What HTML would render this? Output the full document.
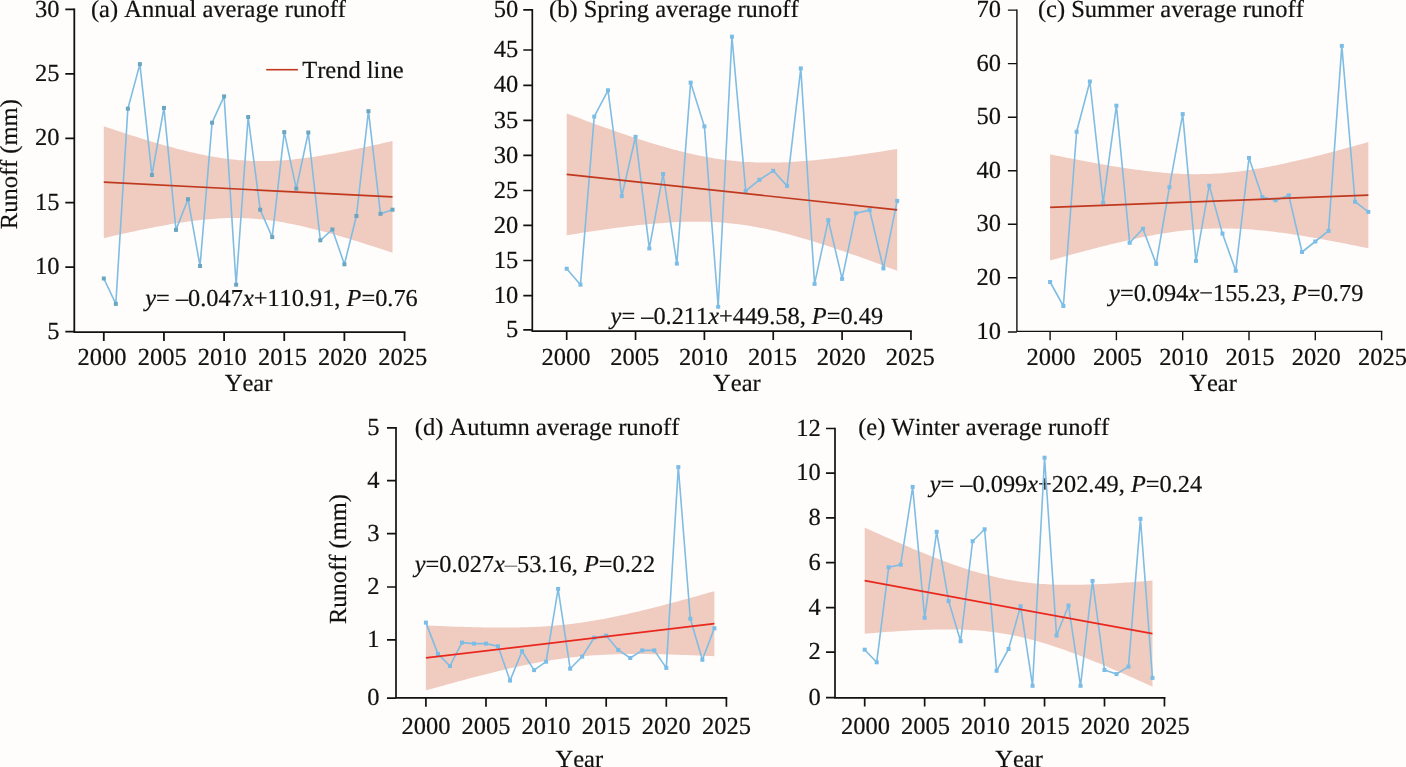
<!DOCTYPE html>
<html><head><meta charset="utf-8"><title>Runoff trends</title>
<style>
html,body{margin:0;padding:0;background:#fefdfc;}
body{width:1406px;height:767px;overflow:hidden;}
svg{display:block;filter:blur(0.3px);}
text{font-family:"Liberation Serif", "Times New Roman", serif;font-size:24.5px;fill:#111;font-kerning:none;text-rendering:geometricPrecision;stroke:#111;stroke-width:0.2px;}
</style></head><body>
<svg width="1406" height="767" viewBox="0 0 1406 767">
<rect width="1406" height="767" fill="#fefdfc"/>
<path d="M103.8,126.29 L106.81,127.29 L109.81,128.3 L112.82,129.29 L115.83,130.28 L118.84,131.27 L121.84,132.25 L124.85,133.22 L127.86,134.19 L130.87,135.15 L133.88,136.1 L136.88,137.04 L139.89,137.98 L142.9,138.91 L145.91,139.83 L148.91,140.74 L151.92,141.64 L154.93,142.53 L157.94,143.4 L160.94,144.27 L163.95,145.13 L166.96,145.97 L169.96,146.8 L172.97,147.61 L175.98,148.41 L178.99,149.19 L182,149.96 L185,150.71 L188.01,151.44 L191.02,152.15 L194.02,152.85 L197.03,153.52 L200.04,154.16 L203.05,154.79 L206.06,155.39 L209.06,155.97 L212.07,156.52 L215.08,157.04 L218.08,157.53 L221.09,158 L224.1,158.44 L227.11,158.84 L230.12,159.21 L233.12,159.55 L236.13,159.86 L239.14,160.13 L242.14,160.37 L245.15,160.58 L248.16,160.75 L251.17,160.88 L254.18,160.98 L257.18,161.05 L260.19,161.08 L263.2,161.08 L266.2,161.05 L269.21,160.98 L272.22,160.88 L275.23,160.75 L278.24,160.59 L281.24,160.4 L284.25,160.19 L287.26,159.94 L290.26,159.67 L293.27,159.38 L296.28,159.06 L299.29,158.71 L302.29,158.35 L305.3,157.96 L308.31,157.56 L311.32,157.13 L314.32,156.69 L317.33,156.22 L320.34,155.75 L323.35,155.25 L326.35,154.74 L329.36,154.22 L332.37,153.69 L335.38,153.14 L338.38,152.58 L341.39,152 L344.4,151.42 L347.41,150.83 L350.41,150.22 L353.42,149.61 L356.43,148.99 L359.44,148.36 L362.44,147.72 L365.45,147.07 L368.46,146.42 L371.47,145.76 L374.48,145.09 L377.48,144.42 L380.49,143.74 L383.5,143.05 L386.5,142.36 L389.51,141.66 L392.52,140.96 L392.52,252.82 L389.51,251.81 L386.5,250.81 L383.5,249.81 L380.49,248.82 L377.48,247.84 L374.48,246.86 L371.47,245.88 L368.46,244.92 L365.45,243.96 L362.44,243.01 L359.44,242.06 L356.43,241.12 L353.42,240.2 L350.41,239.28 L347.41,238.37 L344.4,237.47 L341.39,236.58 L338.38,235.7 L335.38,234.83 L332.37,233.98 L329.36,233.14 L326.35,232.31 L323.35,231.49 L320.34,230.69 L317.33,229.91 L314.32,229.14 L311.32,228.39 L308.31,227.66 L305.3,226.95 L302.29,226.26 L299.29,225.59 L296.28,224.94 L293.27,224.31 L290.26,223.71 L287.26,223.14 L284.25,222.59 L281.24,222.06 L278.24,221.57 L275.23,221.1 L272.22,220.67 L269.21,220.26 L266.2,219.89 L263.2,219.55 L260.19,219.25 L257.18,218.97 L254.18,218.73 L251.17,218.53 L248.16,218.36 L245.15,218.22 L242.14,218.12 L239.14,218.06 L236.13,218.02 L233.12,218.02 L230.12,218.06 L227.11,218.12 L224.1,218.22 L221.09,218.35 L218.08,218.51 L215.08,218.7 L212.07,218.92 L209.06,219.16 L206.06,219.43 L203.05,219.73 L200.04,220.05 L197.03,220.39 L194.02,220.76 L191.02,221.14 L188.01,221.55 L185,221.97 L182,222.42 L178.99,222.88 L175.98,223.36 L172.97,223.85 L169.96,224.36 L166.96,224.88 L163.95,225.42 L160.94,225.97 L157.94,226.53 L154.93,227.1 L151.92,227.68 L148.91,228.28 L145.91,228.88 L142.9,229.5 L139.89,230.12 L136.88,230.75 L133.88,231.39 L130.87,232.03 L127.86,232.69 L124.85,233.35 L121.84,234.02 L118.84,234.69 L115.83,235.37 L112.82,236.05 L109.81,236.74 L106.81,237.44 L103.8,238.14Z" fill="#f0cbc0"/>
<path d="M566.7,113.44 L570.14,114.74 L573.59,116.04 L577.03,117.32 L580.47,118.61 L583.91,119.88 L587.36,121.15 L590.8,122.42 L594.24,123.67 L597.68,124.92 L601.12,126.16 L604.57,127.39 L608.01,128.62 L611.45,129.83 L614.9,131.04 L618.34,132.23 L621.78,133.41 L625.22,134.59 L628.67,135.75 L632.11,136.89 L635.55,138.03 L638.99,139.15 L642.44,140.26 L645.88,141.35 L649.32,142.42 L652.76,143.48 L656.21,144.52 L659.65,145.54 L663.09,146.54 L666.53,147.52 L669.98,148.47 L673.42,149.41 L676.86,150.32 L680.3,151.2 L683.75,152.06 L687.19,152.89 L690.63,153.69 L694.07,154.47 L697.52,155.21 L700.96,155.92 L704.4,156.6 L707.84,157.24 L711.29,157.85 L714.73,158.42 L718.17,158.96 L721.61,159.46 L725.06,159.92 L728.5,160.35 L731.94,160.74 L735.38,161.09 L738.83,161.4 L742.27,161.68 L745.71,161.92 L749.15,162.12 L752.6,162.29 L756.04,162.42 L759.48,162.51 L762.92,162.58 L766.37,162.61 L769.81,162.6 L773.25,162.57 L776.69,162.51 L780.13,162.42 L783.58,162.3 L787.02,162.15 L790.46,161.98 L793.9,161.79 L797.35,161.57 L800.79,161.33 L804.23,161.07 L807.68,160.79 L811.12,160.49 L814.56,160.17 L818,159.84 L821.45,159.49 L824.89,159.12 L828.33,158.74 L831.77,158.35 L835.22,157.94 L838.66,157.52 L842.1,157.09 L845.54,156.64 L848.99,156.19 L852.43,155.72 L855.87,155.25 L859.31,154.77 L862.76,154.27 L866.2,153.77 L869.64,153.26 L873.08,152.75 L876.53,152.22 L879.97,151.69 L883.41,151.16 L886.85,150.61 L890.3,150.07 L893.74,149.51 L897.18,148.95 L897.18,270.8 L893.74,269.5 L890.3,268.2 L886.85,266.92 L883.41,265.63 L879.97,264.36 L876.53,263.09 L873.08,261.82 L869.64,260.57 L866.2,259.32 L862.76,258.08 L859.31,256.85 L855.87,255.62 L852.43,254.41 L848.99,253.2 L845.54,252.01 L842.1,250.83 L838.66,249.65 L835.22,248.49 L831.77,247.35 L828.33,246.21 L824.89,245.09 L821.45,243.98 L818,242.89 L814.56,241.82 L811.12,240.76 L807.68,239.72 L804.23,238.7 L800.79,237.7 L797.35,236.72 L793.9,235.77 L790.46,234.83 L787.02,233.92 L783.58,233.04 L780.13,232.18 L776.69,231.35 L773.25,230.55 L769.81,229.77 L766.37,229.03 L762.92,228.32 L759.48,227.64 L756.04,227 L752.6,226.39 L749.15,225.82 L745.71,225.28 L742.27,224.78 L738.83,224.32 L735.38,223.89 L731.94,223.5 L728.5,223.15 L725.06,222.84 L721.61,222.56 L718.17,222.32 L714.73,222.12 L711.29,221.95 L707.84,221.82 L704.4,221.73 L700.96,221.66 L697.52,221.63 L694.07,221.64 L690.63,221.67 L687.19,221.73 L683.75,221.82 L680.3,221.94 L676.86,222.09 L673.42,222.26 L669.98,222.45 L666.53,222.67 L663.09,222.91 L659.65,223.17 L656.21,223.45 L652.76,223.75 L649.32,224.07 L645.88,224.4 L642.44,224.75 L638.99,225.12 L635.55,225.5 L632.11,225.89 L628.67,226.3 L625.22,226.72 L621.78,227.15 L618.34,227.6 L614.9,228.05 L611.45,228.52 L608.01,228.99 L604.57,229.47 L601.12,229.97 L597.68,230.47 L594.24,230.98 L590.8,231.49 L587.36,232.02 L583.91,232.55 L580.47,233.08 L577.03,233.63 L573.59,234.17 L570.14,234.73 L566.7,235.29Z" fill="#f0cbc0"/>
<path d="M1050.1,154.28 L1053.41,154.97 L1056.73,155.65 L1060.04,156.32 L1063.36,156.99 L1066.67,157.65 L1069.99,158.31 L1073.3,158.96 L1076.62,159.6 L1079.93,160.24 L1083.25,160.87 L1086.56,161.5 L1089.88,162.11 L1093.19,162.72 L1096.51,163.32 L1099.82,163.91 L1103.14,164.49 L1106.45,165.07 L1109.77,165.63 L1113.08,166.18 L1116.4,166.72 L1119.71,167.24 L1123.03,167.76 L1126.34,168.26 L1129.66,168.74 L1132.97,169.22 L1136.29,169.67 L1139.61,170.11 L1142.92,170.53 L1146.23,170.94 L1149.55,171.32 L1152.87,171.68 L1156.18,172.03 L1159.49,172.35 L1162.81,172.65 L1166.12,172.92 L1169.44,173.17 L1172.75,173.39 L1176.07,173.59 L1179.38,173.76 L1182.7,173.9 L1186.01,174.01 L1189.33,174.09 L1192.64,174.14 L1195.96,174.16 L1199.27,174.15 L1202.59,174.1 L1205.9,174.02 L1209.22,173.91 L1212.53,173.77 L1215.85,173.59 L1219.16,173.38 L1222.48,173.14 L1225.79,172.86 L1229.11,172.56 L1232.42,172.22 L1235.74,171.86 L1239.05,171.46 L1242.37,171.03 L1245.68,170.58 L1249,170.1 L1252.31,169.6 L1255.63,169.07 L1258.94,168.51 L1262.26,167.94 L1265.57,167.34 L1268.89,166.72 L1272.2,166.08 L1275.52,165.42 L1278.83,164.74 L1282.15,164.05 L1285.46,163.34 L1288.78,162.61 L1292.09,161.87 L1295.41,161.11 L1298.72,160.34 L1302.04,159.56 L1305.36,158.77 L1308.67,157.96 L1311.98,157.14 L1315.3,156.32 L1318.61,155.48 L1321.93,154.63 L1325.24,153.78 L1328.56,152.91 L1331.88,152.04 L1335.19,151.16 L1338.5,150.27 L1341.82,149.38 L1345.13,148.48 L1348.45,147.57 L1351.76,146.66 L1355.08,145.74 L1358.39,144.82 L1361.71,143.89 L1365.02,142.96 L1368.34,142.02 L1368.34,248.26 L1365.02,247.58 L1361.71,246.9 L1358.39,246.22 L1355.08,245.56 L1351.76,244.89 L1348.45,244.24 L1345.13,243.59 L1341.82,242.94 L1338.5,242.3 L1335.19,241.67 L1331.88,241.05 L1328.56,240.43 L1325.24,239.82 L1321.93,239.22 L1318.61,238.63 L1315.3,238.05 L1311.98,237.48 L1308.67,236.92 L1305.36,236.37 L1302.04,235.83 L1298.72,235.3 L1295.41,234.79 L1292.09,234.29 L1288.78,233.8 L1285.46,233.33 L1282.15,232.87 L1278.83,232.43 L1275.52,232.01 L1272.2,231.61 L1268.89,231.22 L1265.57,230.86 L1262.26,230.52 L1258.94,230.2 L1255.63,229.9 L1252.31,229.62 L1249,229.37 L1245.68,229.15 L1242.37,228.95 L1239.05,228.78 L1235.74,228.64 L1232.42,228.53 L1229.11,228.45 L1225.79,228.4 L1222.48,228.38 L1219.16,228.4 L1215.85,228.44 L1212.53,228.52 L1209.22,228.63 L1205.9,228.78 L1202.59,228.95 L1199.27,229.16 L1195.96,229.41 L1192.64,229.68 L1189.33,229.99 L1186.01,230.32 L1182.7,230.69 L1179.38,231.08 L1176.07,231.51 L1172.75,231.96 L1169.44,232.44 L1166.12,232.95 L1162.81,233.48 L1159.49,234.03 L1156.18,234.61 L1152.87,235.2 L1149.55,235.82 L1146.23,236.46 L1142.92,237.12 L1139.61,237.8 L1136.29,238.5 L1132.97,239.21 L1129.66,239.93 L1126.34,240.68 L1123.03,241.43 L1119.71,242.2 L1116.4,242.98 L1113.08,243.78 L1109.77,244.58 L1106.45,245.4 L1103.14,246.23 L1099.82,247.07 L1096.51,247.91 L1093.19,248.77 L1089.88,249.63 L1086.56,250.5 L1083.25,251.38 L1079.93,252.27 L1076.62,253.16 L1073.3,254.06 L1069.99,254.97 L1066.67,255.88 L1063.36,256.8 L1060.04,257.73 L1056.73,258.65 L1053.41,259.59 L1050.1,260.53Z" fill="#f0cbc0"/>
<path d="M425.9,625.38 L428.9,625.52 L431.91,625.65 L434.91,625.79 L437.92,625.92 L440.92,626.05 L443.93,626.17 L446.94,626.29 L449.94,626.41 L452.94,626.52 L455.95,626.63 L458.95,626.74 L461.96,626.83 L464.96,626.93 L467.97,627.02 L470.97,627.1 L473.98,627.18 L476.98,627.25 L479.99,627.32 L483,627.38 L486,627.43 L489,627.47 L492.01,627.51 L495.01,627.54 L498.02,627.56 L501.02,627.57 L504.03,627.57 L507.03,627.56 L510.04,627.54 L513.04,627.51 L516.05,627.47 L519.05,627.41 L522.06,627.35 L525.06,627.26 L528.07,627.17 L531.07,627.06 L534.08,626.93 L537.09,626.79 L540.09,626.63 L543.1,626.46 L546.1,626.27 L549.11,626.06 L552.11,625.83 L555.12,625.58 L558.12,625.31 L561.12,625.03 L564.13,624.72 L567.13,624.39 L570.14,624.05 L573.14,623.68 L576.15,623.3 L579.15,622.89 L582.16,622.46 L585.16,622.02 L588.17,621.55 L591.17,621.07 L594.18,620.56 L597.18,620.04 L600.19,619.5 L603.19,618.95 L606.2,618.38 L609.2,617.79 L612.21,617.19 L615.21,616.57 L618.22,615.94 L621.22,615.29 L624.23,614.64 L627.23,613.97 L630.24,613.28 L633.25,612.59 L636.25,611.89 L639.25,611.17 L642.26,610.45 L645.26,609.72 L648.27,608.98 L651.27,608.23 L654.28,607.47 L657.28,606.7 L660.29,605.93 L663.29,605.15 L666.3,604.37 L669.3,603.58 L672.31,602.78 L675.31,601.98 L678.32,601.17 L681.32,600.36 L684.33,599.54 L687.34,598.72 L690.34,597.89 L693.35,597.06 L696.35,596.23 L699.36,595.39 L702.36,594.55 L705.37,593.71 L708.37,592.86 L711.38,592.01 L714.38,591.16 L714.38,656.25 L711.38,656.11 L708.37,655.97 L705.37,655.84 L702.36,655.7 L699.36,655.58 L696.35,655.45 L693.35,655.33 L690.34,655.21 L687.34,655.1 L684.33,654.99 L681.32,654.89 L678.32,654.79 L675.31,654.69 L672.31,654.61 L669.3,654.52 L666.3,654.44 L663.29,654.37 L660.29,654.31 L657.28,654.25 L654.28,654.19 L651.27,654.15 L648.27,654.11 L645.26,654.08 L642.26,654.06 L639.25,654.05 L636.25,654.05 L633.25,654.06 L630.24,654.08 L627.23,654.11 L624.23,654.16 L621.22,654.21 L618.22,654.28 L615.21,654.36 L612.21,654.46 L609.2,654.57 L606.2,654.69 L603.19,654.83 L600.19,654.99 L597.18,655.16 L594.18,655.36 L591.17,655.57 L588.17,655.8 L585.16,656.04 L582.16,656.31 L579.15,656.6 L576.15,656.9 L573.14,657.23 L570.14,657.58 L567.13,657.94 L564.13,658.33 L561.12,658.74 L558.12,659.16 L555.12,659.61 L552.11,660.07 L549.11,660.56 L546.1,661.06 L543.1,661.58 L540.09,662.12 L537.09,662.67 L534.08,663.25 L531.07,663.83 L528.07,664.44 L525.06,665.05 L522.06,665.69 L519.05,666.33 L516.05,666.99 L513.04,667.66 L510.04,668.34 L507.03,669.03 L504.03,669.74 L501.02,670.45 L498.02,671.17 L495.01,671.91 L492.01,672.65 L489,673.4 L486,674.16 L483,674.92 L479.99,675.69 L476.98,676.47 L473.98,677.26 L470.97,678.05 L467.97,678.84 L464.96,679.65 L461.96,680.45 L458.95,681.27 L455.95,682.08 L452.94,682.91 L449.94,683.73 L446.94,684.56 L443.93,685.4 L440.92,686.23 L437.92,687.07 L434.91,687.92 L431.91,688.76 L428.9,689.61 L425.9,690.47Z" fill="#f0cbc0"/>
<path d="M864.7,527.56 L867.7,528.92 L870.7,530.28 L873.69,531.63 L876.69,532.98 L879.69,534.32 L882.69,535.65 L885.68,536.98 L888.68,538.31 L891.68,539.62 L894.68,540.93 L897.67,542.24 L900.67,543.53 L903.67,544.82 L906.67,546.1 L909.66,547.37 L912.66,548.63 L915.66,549.88 L918.66,551.12 L921.65,552.35 L924.65,553.56 L927.65,554.77 L930.65,555.96 L933.64,557.14 L936.64,558.31 L939.64,559.46 L942.63,560.59 L945.63,561.71 L948.63,562.81 L951.63,563.89 L954.62,564.95 L957.62,566 L960.62,567.02 L963.62,568.02 L966.62,569 L969.61,569.95 L972.61,570.88 L975.61,571.78 L978.61,572.65 L981.6,573.5 L984.6,574.32 L987.6,575.11 L990.6,575.87 L993.59,576.6 L996.59,577.3 L999.59,577.96 L1002.59,578.59 L1005.58,579.19 L1008.58,579.76 L1011.58,580.3 L1014.58,580.8 L1017.57,581.27 L1020.57,581.7 L1023.57,582.11 L1026.57,582.48 L1029.56,582.82 L1032.56,583.14 L1035.56,583.42 L1038.56,583.67 L1041.55,583.9 L1044.55,584.1 L1047.55,584.27 L1050.55,584.42 L1053.54,584.55 L1056.54,584.65 L1059.54,584.73 L1062.54,584.79 L1065.53,584.83 L1068.53,584.85 L1071.53,584.85 L1074.53,584.83 L1077.52,584.8 L1080.52,584.75 L1083.52,584.69 L1086.52,584.61 L1089.51,584.52 L1092.51,584.42 L1095.51,584.3 L1098.51,584.18 L1101.5,584.04 L1104.5,583.89 L1107.5,583.73 L1110.5,583.56 L1113.49,583.39 L1116.49,583.2 L1119.49,583.01 L1122.49,582.81 L1125.48,582.6 L1128.48,582.39 L1131.48,582.16 L1134.47,581.94 L1137.47,581.7 L1140.47,581.46 L1143.47,581.22 L1146.47,580.97 L1149.46,580.71 L1152.46,580.45 L1152.46,686.68 L1149.46,685.32 L1146.47,683.96 L1143.47,682.61 L1140.47,681.26 L1137.47,679.92 L1134.47,678.59 L1131.48,677.26 L1128.48,675.93 L1125.48,674.62 L1122.49,673.31 L1119.49,672 L1116.49,670.71 L1113.49,669.42 L1110.5,668.14 L1107.5,666.87 L1104.5,665.61 L1101.5,664.36 L1098.51,663.12 L1095.51,661.89 L1092.51,660.68 L1089.51,659.47 L1086.52,658.28 L1083.52,657.1 L1080.52,655.93 L1077.52,654.78 L1074.53,653.65 L1071.53,652.53 L1068.53,651.43 L1065.53,650.35 L1062.54,649.29 L1059.54,648.24 L1056.54,647.22 L1053.54,646.22 L1050.55,645.24 L1047.55,644.29 L1044.55,643.36 L1041.55,642.46 L1038.56,641.59 L1035.56,640.74 L1032.56,639.92 L1029.56,639.13 L1026.57,638.37 L1023.57,637.64 L1020.57,636.94 L1017.57,636.28 L1014.58,635.65 L1011.58,635.05 L1008.58,634.48 L1005.58,633.94 L1002.59,633.44 L999.59,632.97 L996.59,632.54 L993.59,632.13 L990.6,631.76 L987.6,631.42 L984.6,631.1 L981.6,630.82 L978.61,630.57 L975.61,630.34 L972.61,630.14 L969.61,629.97 L966.62,629.82 L963.62,629.69 L960.62,629.59 L957.62,629.51 L954.62,629.45 L951.63,629.41 L948.63,629.39 L945.63,629.39 L942.63,629.41 L939.64,629.44 L936.64,629.49 L933.64,629.55 L930.65,629.63 L927.65,629.72 L924.65,629.82 L921.65,629.94 L918.66,630.06 L915.66,630.2 L912.66,630.35 L909.66,630.51 L906.67,630.68 L903.67,630.85 L900.67,631.04 L897.67,631.23 L894.68,631.43 L891.68,631.64 L888.68,631.85 L885.68,632.08 L882.69,632.3 L879.69,632.54 L876.69,632.78 L873.69,633.02 L870.7,633.27 L867.7,633.53 L864.7,633.79Z" fill="#f0cbc0"/>
<text x="90.9" y="16.9" text-anchor="start" >(a) Annual average runoff</text>
<text x="549" y="16.9" text-anchor="start" >(b) Spring average runoff</text>
<text x="1037.9" y="16.8" text-anchor="start" >(c) Summer average runoff</text>
<text x="414.8" y="434.8" text-anchor="start" >(d) Autumn average runoff</text>
<text x="858.2" y="434.8" text-anchor="start" >(e) Winter average runoff</text>
<line x1="266.2" y1="69.7" x2="297.9" y2="69.7" stroke="#c0391f" stroke-width="1.6"/>
<text x="302.2" y="77.8" text-anchor="start" >Trend line</text>
<text x="145.3" y="306.2" text-anchor="start" style="font-size:24.35px"><tspan font-style="italic">y</tspan>= –0.047<tspan font-style="italic">x</tspan>+110.91, <tspan font-style="italic">P</tspan>=0.76</text>
<text x="610.6" y="324" text-anchor="start" style="font-size:24.35px"><tspan font-style="italic">y</tspan>= –0.211<tspan font-style="italic">x</tspan>+449.58, <tspan font-style="italic">P</tspan>=0.49</text>
<text x="1109.1" y="301.2" text-anchor="start" style="font-size:24.35px"><tspan font-style="italic">y</tspan>=0.094<tspan font-style="italic">x</tspan>−155.23, <tspan font-style="italic">P</tspan>=0.79</text>
<text x="414.7" y="571.6" text-anchor="start" style="font-size:24.35px"><tspan font-style="italic">y</tspan>=0.027<tspan font-style="italic">x</tspan><tspan fill="#8c8c8c" style="fill:#8c8c8c;stroke:#8c8c8c">–</tspan>53.16, <tspan font-style="italic">P</tspan>=0.22</text>
<text x="929.7" y="491.6" text-anchor="start" style="font-size:24.35px"><tspan font-style="italic">y</tspan>= –0.099<tspan font-style="italic">x</tspan>+202.49, <tspan font-style="italic">P</tspan>=0.24</text>
<text x="17.3" y="164.2" text-anchor="middle" transform="rotate(-90 17.3 164.2)">Runoff (mm)</text>
<text x="345.9" y="559" text-anchor="middle" transform="rotate(-90 345.9 559.0)">Runoff (mm)</text>
<text x="248.5" y="390.9" text-anchor="middle" >Year</text>
<text x="736.9" y="390.9" text-anchor="middle" >Year</text>
<text x="1213" y="391.1" text-anchor="middle" >Year</text>
<text x="579.3" y="766.8" text-anchor="middle" >Year</text>
<text x="1019" y="766.8" text-anchor="middle" >Year</text>
<path d="M74.3,9.4 L74.3,332.2 L404.5,332.2" fill="none" stroke="#111" stroke-width="1.8" stroke-linejoin="miter" stroke-linecap="square"/>
<text x="59.4" y="16.5" text-anchor="end" >30</text>
<text x="59.4" y="80.9" text-anchor="end" >25</text>
<text x="59.4" y="145.4" text-anchor="end" >20</text>
<text x="59.4" y="209.8" text-anchor="end" >15</text>
<text x="59.4" y="274.3" text-anchor="end" >10</text>
<text x="59.4" y="338.7" text-anchor="end" >5</text>
<text x="102" y="364.6" text-anchor="middle" >2000</text>
<text x="162.15" y="364.6" text-anchor="middle" >2005</text>
<text x="222.3" y="364.6" text-anchor="middle" >2010</text>
<text x="282.45" y="364.6" text-anchor="middle" >2015</text>
<text x="342.6" y="364.6" text-anchor="middle" >2020</text>
<text x="402.75" y="364.6" text-anchor="middle" >2025</text>
<path d="M65.3,9.4 H74.3 M65.3,73.8 H74.3 M65.3,138.3 H74.3 M65.3,202.7 H74.3 M65.3,267.2 H74.3 M65.3,331.6 H74.3 M103.8,332.2 V341 M163.95,332.2 V341 M224.1,332.2 V341 M284.25,332.2 V341 M344.4,332.2 V341 M404.55,332.2 V341" stroke="#111" stroke-width="1.8" fill="none"/>
<polyline points="103.8,278.5 115.83,303.9 127.86,108.7 139.89,64.1 151.92,175 163.95,107.9 175.98,229.9 188.01,199.2 200.04,266 212.07,122.7 224.1,96.4 236.13,284.7 248.16,117 260.19,209.7 272.22,237.1 284.25,132.1 296.28,188.6 308.31,132.5 320.34,240.3 332.37,229.5 344.4,264.3 356.43,216 368.46,111.2 380.49,213.8 392.52,209.7" fill="none" stroke="#7fbde3" stroke-width="1.6" stroke-linejoin="round"/>
<rect x="101.8" y="276.5" width="4" height="4" fill="#6aa6c0"/>
<rect x="113.83" y="301.9" width="4" height="4" fill="#6aa6c0"/>
<rect x="125.86" y="106.7" width="4" height="4" fill="#6aa6c0"/>
<rect x="137.89" y="62.1" width="4" height="4" fill="#6aa6c0"/>
<rect x="149.92" y="173" width="4" height="4" fill="#6aa6c0"/>
<rect x="161.95" y="105.9" width="4" height="4" fill="#6aa6c0"/>
<rect x="173.98" y="227.9" width="4" height="4" fill="#6aa6c0"/>
<rect x="186.01" y="197.2" width="4" height="4" fill="#6aa6c0"/>
<rect x="198.04" y="264" width="4" height="4" fill="#6aa6c0"/>
<rect x="210.07" y="120.7" width="4" height="4" fill="#6aa6c0"/>
<rect x="222.1" y="94.4" width="4" height="4" fill="#6aa6c0"/>
<rect x="234.13" y="282.7" width="4" height="4" fill="#6aa6c0"/>
<rect x="246.16" y="115" width="4" height="4" fill="#6aa6c0"/>
<rect x="258.19" y="207.7" width="4" height="4" fill="#6aa6c0"/>
<rect x="270.22" y="235.1" width="4" height="4" fill="#6aa6c0"/>
<rect x="282.25" y="130.1" width="4" height="4" fill="#6aa6c0"/>
<rect x="294.28" y="186.6" width="4" height="4" fill="#6aa6c0"/>
<rect x="306.31" y="130.5" width="4" height="4" fill="#6aa6c0"/>
<rect x="318.34" y="238.3" width="4" height="4" fill="#6aa6c0"/>
<rect x="330.37" y="227.5" width="4" height="4" fill="#6aa6c0"/>
<rect x="342.4" y="262.3" width="4" height="4" fill="#6aa6c0"/>
<rect x="354.43" y="214" width="4" height="4" fill="#6aa6c0"/>
<rect x="366.46" y="109.2" width="4" height="4" fill="#6aa6c0"/>
<rect x="378.49" y="211.8" width="4" height="4" fill="#6aa6c0"/>
<rect x="390.52" y="207.7" width="4" height="4" fill="#6aa6c0"/>
<line x1="103.8" y1="182.21" x2="392.52" y2="196.89" stroke="#c0391f" stroke-width="1.7"/>
<path d="M532.3,9.9 L532.3,331.1 L911,331.1" fill="none" stroke="#111" stroke-width="1.7" stroke-linejoin="miter" stroke-linecap="square"/>
<text x="518.2" y="17" text-anchor="end" >50</text>
<text x="518.2" y="57.1" text-anchor="end" >45</text>
<text x="518.2" y="92.4" text-anchor="end" >40</text>
<text x="518.2" y="127.5" text-anchor="end" >35</text>
<text x="518.2" y="162.5" text-anchor="end" >30</text>
<text x="518.2" y="197.6" text-anchor="end" >25</text>
<text x="518.2" y="232.5" text-anchor="end" >20</text>
<text x="518.2" y="267.6" text-anchor="end" >15</text>
<text x="518.2" y="302.7" text-anchor="end" >10</text>
<text x="518.2" y="337" text-anchor="end" >5</text>
<text x="565.9" y="364.7" text-anchor="middle" >2000</text>
<text x="634.75" y="364.7" text-anchor="middle" >2005</text>
<text x="703.6" y="364.7" text-anchor="middle" >2010</text>
<text x="772.45" y="364.7" text-anchor="middle" >2015</text>
<text x="841.3" y="364.7" text-anchor="middle" >2020</text>
<text x="910.15" y="364.7" text-anchor="middle" >2025</text>
<path d="M523.3,9.9 H532.3 M523.3,50 H532.3 M523.3,85.3 H532.3 M523.3,120.4 H532.3 M523.3,155.4 H532.3 M523.3,190.5 H532.3 M523.3,225.4 H532.3 M523.3,260.5 H532.3 M523.3,295.6 H532.3 M523.3,329.9 H532.3 M566.7,331.1 V339.9 M635.55,331.1 V339.9 M704.4,331.1 V339.9 M773.25,331.1 V339.9 M842.1,331.1 V339.9 M910.95,331.1 V339.9" stroke="#111" stroke-width="1.7" fill="none"/>
<polyline points="566.7,268.7 580.47,284.7 594.24,116.6 608.01,90.3 621.78,196.1 635.55,136.8 649.32,248.4 663.09,174 676.86,263.6 690.63,82.6 704.4,126.4 718.17,306.8 731.94,36.7 745.71,190.9 759.48,179.8 773.25,170.8 787.02,185.9 800.79,68.4 814.56,283.9 828.33,220.1 842.1,278.9 855.87,213.2 869.64,210.1 883.41,268.4 897.18,200.9" fill="none" stroke="#7fbde3" stroke-width="1.6" stroke-linejoin="round"/>
<rect x="564.7" y="266.7" width="4" height="4" fill="#7bbde6"/>
<rect x="578.47" y="282.7" width="4" height="4" fill="#7bbde6"/>
<rect x="592.24" y="114.6" width="4" height="4" fill="#7bbde6"/>
<rect x="606.01" y="88.3" width="4" height="4" fill="#7bbde6"/>
<rect x="619.78" y="194.1" width="4" height="4" fill="#7bbde6"/>
<rect x="633.55" y="134.8" width="4" height="4" fill="#7bbde6"/>
<rect x="647.32" y="246.4" width="4" height="4" fill="#7bbde6"/>
<rect x="661.09" y="172" width="4" height="4" fill="#7bbde6"/>
<rect x="674.86" y="261.6" width="4" height="4" fill="#7bbde6"/>
<rect x="688.63" y="80.6" width="4" height="4" fill="#7bbde6"/>
<rect x="702.4" y="124.4" width="4" height="4" fill="#7bbde6"/>
<rect x="716.17" y="304.8" width="4" height="4" fill="#7bbde6"/>
<rect x="729.94" y="34.7" width="4" height="4" fill="#7bbde6"/>
<rect x="743.71" y="188.9" width="4" height="4" fill="#7bbde6"/>
<rect x="757.48" y="177.8" width="4" height="4" fill="#7bbde6"/>
<rect x="771.25" y="168.8" width="4" height="4" fill="#7bbde6"/>
<rect x="785.02" y="183.9" width="4" height="4" fill="#7bbde6"/>
<rect x="798.79" y="66.4" width="4" height="4" fill="#7bbde6"/>
<rect x="812.56" y="281.9" width="4" height="4" fill="#7bbde6"/>
<rect x="826.33" y="218.1" width="4" height="4" fill="#7bbde6"/>
<rect x="840.1" y="276.9" width="4" height="4" fill="#7bbde6"/>
<rect x="853.87" y="211.2" width="4" height="4" fill="#7bbde6"/>
<rect x="867.64" y="208.1" width="4" height="4" fill="#7bbde6"/>
<rect x="881.41" y="266.4" width="4" height="4" fill="#7bbde6"/>
<rect x="895.18" y="198.9" width="4" height="4" fill="#7bbde6"/>
<line x1="566.7" y1="174.37" x2="897.18" y2="209.87" stroke="#c0391f" stroke-width="1.7"/>
<path d="M1016.9,10.1 L1016.9,331.4 L1381.7,331.4" fill="none" stroke="#111" stroke-width="1.4" stroke-linejoin="miter" stroke-linecap="square"/>
<text x="1001.1" y="17.2" text-anchor="end" >70</text>
<text x="1001.1" y="70.7" text-anchor="end" >60</text>
<text x="1001.1" y="124.3" text-anchor="end" >50</text>
<text x="1001.1" y="177.8" text-anchor="end" >40</text>
<text x="1001.1" y="231.3" text-anchor="end" >30</text>
<text x="1001.1" y="284.9" text-anchor="end" >20</text>
<text x="1001.1" y="339.1" text-anchor="end" >10</text>
<text x="1051.1" y="364.6" text-anchor="middle" >2000</text>
<text x="1117.4" y="364.6" text-anchor="middle" >2005</text>
<text x="1183.7" y="364.6" text-anchor="middle" >2010</text>
<text x="1250" y="364.6" text-anchor="middle" >2015</text>
<text x="1316.3" y="364.6" text-anchor="middle" >2020</text>
<text x="1382.6" y="364.6" text-anchor="middle" >2025</text>
<path d="M1007.9,10.1 H1016.9 M1007.9,63.6 H1016.9 M1007.9,117.2 H1016.9 M1007.9,170.7 H1016.9 M1007.9,224.2 H1016.9 M1007.9,277.8 H1016.9 M1007.9,332 H1016.9 M1050.1,331.4 V340.2 M1116.4,331.4 V340.2 M1182.7,331.4 V340.2 M1249,331.4 V340.2 M1315.3,331.4 V340.2 M1381.6,331.4 V340.2" stroke="#111" stroke-width="1.4" fill="none"/>
<polyline points="1050.1,282 1063.36,306 1076.62,131.8 1089.88,81.5 1103.14,202.7 1116.4,105.7 1129.66,242.8 1142.92,228.8 1156.18,263.9 1169.44,187.1 1182.7,114.1 1195.96,260.9 1209.22,185.6 1222.48,233.6 1235.74,270.8 1249,157.9 1262.26,197.1 1275.52,200.2 1288.78,195.4 1302.04,252 1315.3,241.5 1328.56,230.9 1341.82,45.9 1355.08,201.7 1368.34,211.9" fill="none" stroke="#7fbde3" stroke-width="1.6" stroke-linejoin="round"/>
<rect x="1048.1" y="280" width="4" height="4" fill="#7bbde6"/>
<rect x="1061.36" y="304" width="4" height="4" fill="#7bbde6"/>
<rect x="1074.62" y="129.8" width="4" height="4" fill="#7bbde6"/>
<rect x="1087.88" y="79.5" width="4" height="4" fill="#7bbde6"/>
<rect x="1101.14" y="200.7" width="4" height="4" fill="#7bbde6"/>
<rect x="1114.4" y="103.7" width="4" height="4" fill="#7bbde6"/>
<rect x="1127.66" y="240.8" width="4" height="4" fill="#7bbde6"/>
<rect x="1140.92" y="226.8" width="4" height="4" fill="#7bbde6"/>
<rect x="1154.18" y="261.9" width="4" height="4" fill="#7bbde6"/>
<rect x="1167.44" y="185.1" width="4" height="4" fill="#7bbde6"/>
<rect x="1180.7" y="112.1" width="4" height="4" fill="#7bbde6"/>
<rect x="1193.96" y="258.9" width="4" height="4" fill="#7bbde6"/>
<rect x="1207.22" y="183.6" width="4" height="4" fill="#7bbde6"/>
<rect x="1220.48" y="231.6" width="4" height="4" fill="#7bbde6"/>
<rect x="1233.74" y="268.8" width="4" height="4" fill="#7bbde6"/>
<rect x="1247" y="155.9" width="4" height="4" fill="#7bbde6"/>
<rect x="1260.26" y="195.1" width="4" height="4" fill="#7bbde6"/>
<rect x="1273.52" y="198.2" width="4" height="4" fill="#7bbde6"/>
<rect x="1286.78" y="193.4" width="4" height="4" fill="#7bbde6"/>
<rect x="1300.04" y="250" width="4" height="4" fill="#7bbde6"/>
<rect x="1313.3" y="239.5" width="4" height="4" fill="#7bbde6"/>
<rect x="1326.56" y="228.9" width="4" height="4" fill="#7bbde6"/>
<rect x="1339.82" y="43.9" width="4" height="4" fill="#7bbde6"/>
<rect x="1353.08" y="199.7" width="4" height="4" fill="#7bbde6"/>
<rect x="1366.34" y="209.9" width="4" height="4" fill="#7bbde6"/>
<line x1="1050.1" y1="207.41" x2="1368.34" y2="195.14" stroke="#c0391f" stroke-width="1.7"/>
<path d="M396,427.9 L396,697.9 L726.4,697.9" fill="none" stroke="#111" stroke-width="1.7" stroke-linejoin="miter" stroke-linecap="square"/>
<text x="379.4" y="435" text-anchor="end" >5</text>
<text x="379.4" y="487.7" text-anchor="end" >4</text>
<text x="379.4" y="540.7" text-anchor="end" >3</text>
<text x="379.4" y="594.1" text-anchor="end" >2</text>
<text x="379.4" y="646.9" text-anchor="end" >1</text>
<text x="379.4" y="705.2" text-anchor="end" >0</text>
<text x="425.9" y="733.9" text-anchor="middle" >2000</text>
<text x="486" y="733.9" text-anchor="middle" >2005</text>
<text x="546.1" y="733.9" text-anchor="middle" >2010</text>
<text x="606.2" y="733.9" text-anchor="middle" >2015</text>
<text x="666.3" y="733.9" text-anchor="middle" >2020</text>
<text x="726.4" y="733.9" text-anchor="middle" >2025</text>
<path d="M387,427.9 H396 M387,480.6 H396 M387,533.6 H396 M387,587 H396 M387,639.8 H396 M387,698.1 H396 M425.9,697.9 V706.7 M486,697.9 V706.7 M546.1,697.9 V706.7 M606.2,697.9 V706.7 M666.3,697.9 V706.7 M726.4,697.9 V706.7" stroke="#111" stroke-width="1.7" fill="none"/>
<polyline points="425.9,622.6 437.92,653.9 449.94,666 461.96,642.6 473.98,643.6 486,643.6 498.02,646.3 510.04,680.6 522.06,651.2 534.08,670.1 546.1,661.7 558.12,588.9 570.14,668.7 582.16,656.6 594.18,637.7 606.2,635.6 618.22,649.9 630.24,658 642.26,650.4 654.28,650.4 666.3,667.9 678.32,467.1 690.34,618.8 702.36,659.8 714.38,628.3" fill="none" stroke="#7fbde3" stroke-width="1.6" stroke-linejoin="round"/>
<rect x="423.9" y="620.6" width="4" height="4" fill="#7bbde6"/>
<rect x="435.92" y="651.9" width="4" height="4" fill="#7bbde6"/>
<rect x="447.94" y="664" width="4" height="4" fill="#7bbde6"/>
<rect x="459.96" y="640.6" width="4" height="4" fill="#7bbde6"/>
<rect x="471.98" y="641.6" width="4" height="4" fill="#7bbde6"/>
<rect x="484" y="641.6" width="4" height="4" fill="#7bbde6"/>
<rect x="496.02" y="644.3" width="4" height="4" fill="#7bbde6"/>
<rect x="508.04" y="678.6" width="4" height="4" fill="#7bbde6"/>
<rect x="520.06" y="649.2" width="4" height="4" fill="#7bbde6"/>
<rect x="532.08" y="668.1" width="4" height="4" fill="#7bbde6"/>
<rect x="544.1" y="659.7" width="4" height="4" fill="#7bbde6"/>
<rect x="556.12" y="586.9" width="4" height="4" fill="#7bbde6"/>
<rect x="568.14" y="666.7" width="4" height="4" fill="#7bbde6"/>
<rect x="580.16" y="654.6" width="4" height="4" fill="#7bbde6"/>
<rect x="592.18" y="635.7" width="4" height="4" fill="#7bbde6"/>
<rect x="604.2" y="633.6" width="4" height="4" fill="#7bbde6"/>
<rect x="616.22" y="647.9" width="4" height="4" fill="#7bbde6"/>
<rect x="628.24" y="656" width="4" height="4" fill="#7bbde6"/>
<rect x="640.26" y="648.4" width="4" height="4" fill="#7bbde6"/>
<rect x="652.28" y="648.4" width="4" height="4" fill="#7bbde6"/>
<rect x="664.3" y="665.9" width="4" height="4" fill="#7bbde6"/>
<rect x="676.32" y="465.1" width="4" height="4" fill="#7bbde6"/>
<rect x="688.34" y="616.8" width="4" height="4" fill="#7bbde6"/>
<rect x="700.36" y="657.8" width="4" height="4" fill="#7bbde6"/>
<rect x="712.38" y="626.3" width="4" height="4" fill="#7bbde6"/>
<line x1="425.9" y1="657.92" x2="714.38" y2="623.7" stroke="#e8281e" stroke-width="1.7"/>
<path d="M835,428.5 L835,697.8 L1164.6,697.8" fill="none" stroke="#111" stroke-width="1.7" stroke-linejoin="miter" stroke-linecap="square"/>
<text x="820.7" y="435.6" text-anchor="end" >12</text>
<text x="820.7" y="480.3" text-anchor="end" >10</text>
<text x="820.7" y="524.9" text-anchor="end" >8</text>
<text x="820.7" y="569.7" text-anchor="end" >6</text>
<text x="820.7" y="614.7" text-anchor="end" >4</text>
<text x="820.7" y="659.3" text-anchor="end" >2</text>
<text x="820.7" y="704.7" text-anchor="end" >0</text>
<text x="865.5" y="733.5" text-anchor="middle" >2000</text>
<text x="925.45" y="733.5" text-anchor="middle" >2005</text>
<text x="985.4" y="733.5" text-anchor="middle" >2010</text>
<text x="1045.35" y="733.5" text-anchor="middle" >2015</text>
<text x="1105.3" y="733.5" text-anchor="middle" >2020</text>
<text x="1165.25" y="733.5" text-anchor="middle" >2025</text>
<path d="M826,428.5 H835 M826,473.2 H835 M826,517.8 H835 M826,562.6 H835 M826,607.6 H835 M826,652.2 H835 M826,697.6 H835 M864.7,697.8 V706.6 M924.65,697.8 V706.6 M984.6,697.8 V706.6 M1044.55,697.8 V706.6 M1104.5,697.8 V706.6 M1164.45,697.8 V706.6" stroke="#111" stroke-width="1.7" fill="none"/>
<polyline points="864.7,649.7 876.69,662.3 888.68,567.3 900.67,564.7 912.66,486.9 924.65,617.8 936.64,531.8 948.63,601.1 960.62,641.2 972.61,541.2 984.6,529.3 996.59,670.8 1008.58,649 1020.57,606.3 1032.56,685.8 1044.55,457.7 1056.54,635.5 1068.53,605.5 1080.52,685.8 1092.51,580.9 1104.5,670 1116.49,674.1 1128.48,666.6 1140.47,518.8 1152.46,677.9" fill="none" stroke="#7fbde3" stroke-width="1.6" stroke-linejoin="round"/>
<rect x="862.7" y="647.7" width="4" height="4" fill="#7bbde6"/>
<rect x="874.69" y="660.3" width="4" height="4" fill="#7bbde6"/>
<rect x="886.68" y="565.3" width="4" height="4" fill="#7bbde6"/>
<rect x="898.67" y="562.7" width="4" height="4" fill="#7bbde6"/>
<rect x="910.66" y="484.9" width="4" height="4" fill="#7bbde6"/>
<rect x="922.65" y="615.8" width="4" height="4" fill="#7bbde6"/>
<rect x="934.64" y="529.8" width="4" height="4" fill="#7bbde6"/>
<rect x="946.63" y="599.1" width="4" height="4" fill="#7bbde6"/>
<rect x="958.62" y="639.2" width="4" height="4" fill="#7bbde6"/>
<rect x="970.61" y="539.2" width="4" height="4" fill="#7bbde6"/>
<rect x="982.6" y="527.3" width="4" height="4" fill="#7bbde6"/>
<rect x="994.59" y="668.8" width="4" height="4" fill="#7bbde6"/>
<rect x="1006.58" y="647" width="4" height="4" fill="#7bbde6"/>
<rect x="1018.57" y="604.3" width="4" height="4" fill="#7bbde6"/>
<rect x="1030.56" y="683.8" width="4" height="4" fill="#7bbde6"/>
<rect x="1042.55" y="455.7" width="4" height="4" fill="#7bbde6"/>
<rect x="1054.54" y="633.5" width="4" height="4" fill="#7bbde6"/>
<rect x="1066.53" y="603.5" width="4" height="4" fill="#7bbde6"/>
<rect x="1078.52" y="683.8" width="4" height="4" fill="#7bbde6"/>
<rect x="1090.51" y="578.9" width="4" height="4" fill="#7bbde6"/>
<rect x="1102.5" y="668" width="4" height="4" fill="#7bbde6"/>
<rect x="1114.49" y="672.1" width="4" height="4" fill="#7bbde6"/>
<rect x="1126.48" y="664.6" width="4" height="4" fill="#7bbde6"/>
<rect x="1138.47" y="516.8" width="4" height="4" fill="#7bbde6"/>
<rect x="1150.46" y="675.9" width="4" height="4" fill="#7bbde6"/>
<line x1="864.7" y1="580.67" x2="1152.46" y2="633.57" stroke="#e8281e" stroke-width="1.7"/>
</svg>
</body></html>
